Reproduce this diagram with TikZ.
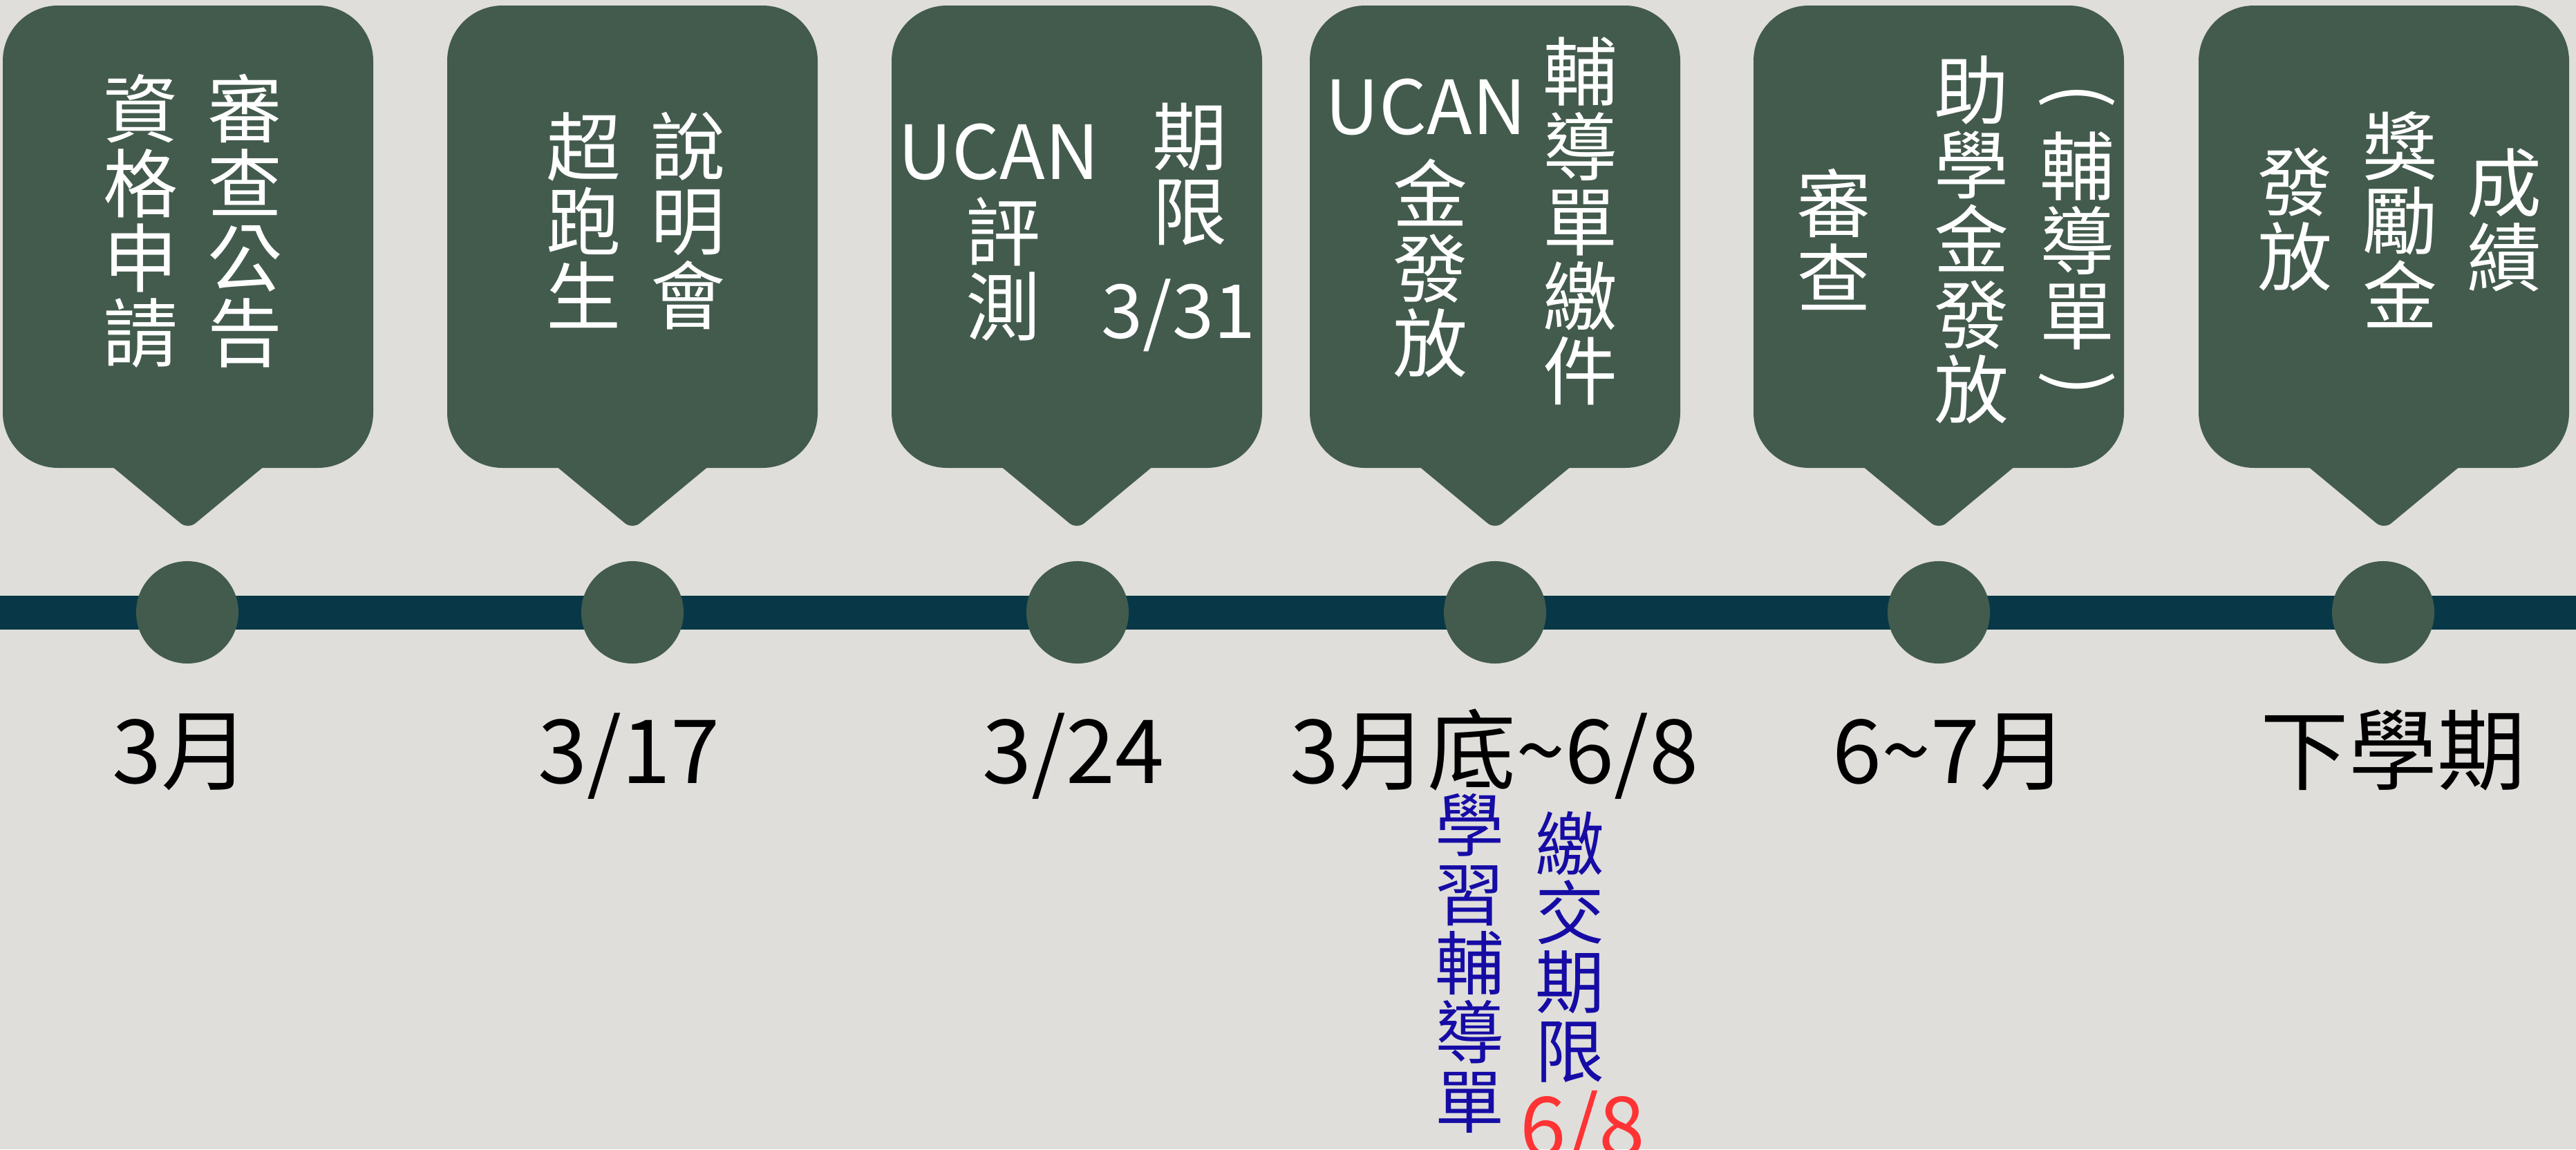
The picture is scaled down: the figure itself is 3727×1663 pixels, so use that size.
\documentclass[tikz,border=0pt]{standalone}
\usepackage{fontspec}
\newfontfamily\cjk{Noto Sans CJK TC}
\definecolor{bgc}{RGB}{223,222,218}
\definecolor{cgreen}{RGB}{67,91,77}
\definecolor{barc}{RGB}{8,56,71}
\definecolor{bluec}{RGB}{22,12,165}
\definecolor{redc}{RGB}{255,51,51}
\lineskiplimit=-20pt
\begin{document}
\begin{tikzpicture}[x=0.01cm,y=-0.01cm,
  callout/.style={fill=cgreen},
  dot/.style={circle, fill=cgreen, minimum size=1.48cm, inner sep=0pt},
  wt/.style={text=white, inner sep=0pt, align=center, font=\cjk\fontsize{30.73}{30.73}\selectfont},
  lab/.style={text=black, inner sep=0pt, anchor=base, font=\cjk\fontsize{36.4}{36.4}\selectfont},
  bt/.style={text=bluec, inner sep=0pt, align=center, font=\cjk\fontsize{28.45}{28.45}\selectfont},
  rt/.style={text=redc, inner sep=0pt, anchor=base, font=\cjk\fontsize{34.1}{34.1}\selectfont}]
\fill[bgc] (0,0) rectangle (3727,1663);
\useasboundingbox (0,0) rectangle (3727,1663);
% callouts
\foreach \c in {272,915,1558,2163,2805,3449} {
  \fill[callout, rounded corners=0.8cm] (\c-268,8) rectangle (\c+268,677);
  \fill[callout, rounded corners=0.14cm] (\c-152,640) -- (\c,766) -- (\c+152,640) -- cycle;
}
% timeline bar
\fill[barc] (0,862) rectangle (3727,911);
\node[dot] (d1) at (271,886) {};
\node[dot] (d2) at (915,886) {};
\node[dot] (d3) at (1559,886) {};
\node[dot] (d4) at (2163,886) {};
\node[dot] (d5) at (2805,886) {};
\node[dot] (d6) at (3448,886) {};
% callout texts
\node[wt] (c1a) at (355,320) {審\\查\\公\\告};
\node[wt] (c1b) at (204,320) {資\\格\\申\\請};
\node[wt] (c2a) at (996,320) {說\\明\\會};
\node[wt] (c2b) at (845,319) {超\\跑\\生};
\node[wt] (c3u) at (1445,220) {UCAN};
\node[wt] (c3b) at (1452,389) {評\\測};
\node[wt] (c3a) at (1722,252) {期\\限};
\node[wt] (c3d) at (1705,456) {3/31};
\node[wt] (c4u) at (2063,155) {UCAN};
\node[wt] (c4b) at (2070,388) {金\\發\\放};
\node[wt] (c4a) at (2287,320) {輔\\導\\單\\繳\\件};
\node[wt] (c5c) at (2653,346) {審\\查};
\node[wt] (c5b) at (2852,347) {助\\學\\金\\發\\放};
\node[wt, rotate=-90] (c5p1) at (3005,139) {(};
\node[wt] (c5a) at (3005,348) {輔\\導\\單};
\node[wt, rotate=-90] (c5p2) at (3005,555) {)};
\node[wt] (c6a) at (3623,319) {成\\績};
\node[wt] (c6b) at (3472,318) {獎\\勵\\金};
\node[wt] (c6c) at (3320,318) {發\\放};
% date labels
\node[lab] (l1) at (262,1133) {3月};
\node[lab] (l2) at (910,1133) {3/17};
\node[lab] (l3) at (1553,1133) {3/24};
\node[lab] (l4) at (2162,1133) {3月底\char`\~6/8};
\node[lab] (l5) at (2822,1133) {6\char`\~7月};
\node[lab] (l6) at (3462,1133) {下學期};
% notes
\node[bt] (b1) at (2126,1394) {學\\習\\輔\\導\\單};
\node[bt] (b2) at (2271,1370) {繳\\交\\期\\限};
\node[rt] (r1) at (2290,1673) {6/8};
\end{tikzpicture}
\end{document}
